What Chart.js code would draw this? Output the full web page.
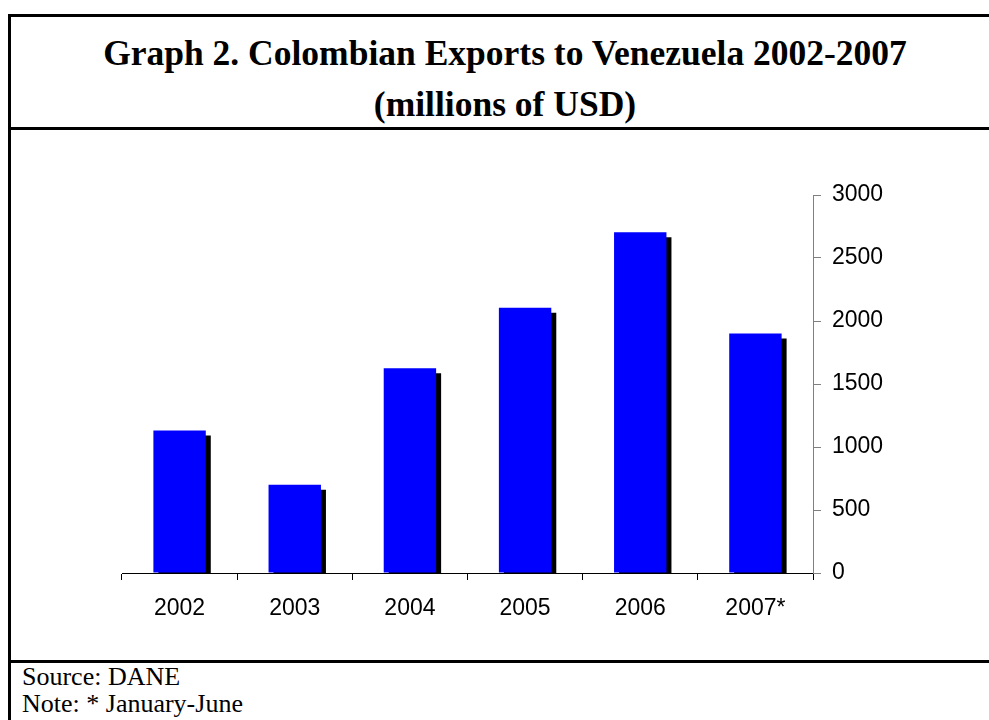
<!DOCTYPE html>
<html>
<head>
<meta charset="utf-8">
<script src="https://cdn.jsdelivr.net/npm/chart.js@4"></script>
<style>
  body { margin: 0; background: #fff; }
  #page { position: relative; width: 989px; height: 720px; overflow: hidden; background: #fff; }
  .rule { position: absolute; background: #000; }
  .title { position: absolute; left: 9px; width: 992px; text-align: center;
    font-family: "Liberation Serif", serif; font-weight: bold; font-size: 35.5px; color: #000; white-space: nowrap; }
  .note { position: absolute; left: 22px; font-family: "Liberation Serif", serif; font-size: 26px; color: #000; white-space: nowrap; }
  #chartBox { position: absolute; left: 0; top: 130px; width: 989px; height: 530px; }
</style>
</head>
<body>
<div id="page">
  <div class="rule" style="left:8px; top:14px; width:981px; height:3px;"></div>
  <div class="rule" style="left:8px; top:14px; width:3px; height:706px;"></div>
  <div class="rule" style="left:8px; top:127px; width:981px; height:3px;"></div>
  <div class="rule" style="left:8px; top:660px; width:981px; height:3px;"></div>

  <div class="title" style="top:35px; line-height:36px;">Graph 2. Colombian Exports to Venezuela 2002-2007</div>
  <div class="title" style="top:86px; line-height:36px;">(millions of USD)</div>

  <div id="chartBox"><canvas id="exportsChart"></canvas></div>

  <div class="note" style="top:663px; line-height:28px;">Source: DANE</div>
  <div class="note" style="top:690px; line-height:28px;">Note: * January-June</div>
</div>
<script>
// Дані з графіка
const years = ['2002', '2003', '2004', '2005', '2006', '2007*'];
const exportsUsd = [1130, 700, 1625, 2105, 2705, 1900];
const yTicks = [0, 500, 1000, 1500, 2000, 2500, 3000];

// Чорна тінь під стовпчиками
const barShadow = {
  id: 'barShadow',
  beforeDatasetsDraw(chart) {
    const ctx = chart.ctx;
    ctx.save();
    ctx.shadowColor = '#000';
    ctx.shadowOffsetX = 5;
    ctx.shadowOffsetY = 5;
    ctx.shadowBlur = 0;
  },
  afterDatasetsDraw(chart) {
    chart.ctx.restore();
  }
};

const ctx = document.getElementById('exportsChart').getContext('2d');
new Chart(ctx, {
  type: 'bar',
  data: {
    labels: years,
    datasets: [{
      data: exportsUsd,
      backgroundColor: '#0000ff',
      borderWidth: 0,
      categoryPercentage: 1,
      barPercentage: 0.455,
      clip: 0
    }]
  },
  options: {
    responsive: true,
    maintainAspectRatio: false,
    animation: false,
    layout: { padding: { left: 122, top: 65, right: 0, bottom: 0 } },
    plugins: {
      legend: { display: false },
      tooltip: { enabled: false }
    },
    scales: {
      x: {
        grid: {
          display: true,
          offset: true,
          drawOnChartArea: false,
          drawTicks: true,
          tickLength: 7,
          color: '#000'
        },
        border: { display: true, color: '#000', width: 1 },
        ticks: {
          color: '#000',
          padding: 15,
          maxRotation: 0,
          font: { family: 'Liberation Sans', size: 23 }
        },
        afterFit: scale => { scale.height = 87; }
      },
      y: {
        position: 'right',
        min: 0,
        max: 3000,
        afterBuildTicks: scale => { scale.ticks = yTicks.map(v => ({ value: v })); },
        grid: {
          display: true,
          drawOnChartArea: false,
          drawTicks: true,
          tickLength: 8,
          color: '#808080'
        },
        border: { display: true, color: '#808080', width: 1 },
        ticks: {
          color: '#000',
          padding: 11,
          font: { family: 'Liberation Sans', size: 23 },
          callback: value => String(value)
        },
        afterFit: scale => { scale.width = 176; }
      }
    }
  },
  plugins: [barShadow]
});
</script>
</body>
</html>
